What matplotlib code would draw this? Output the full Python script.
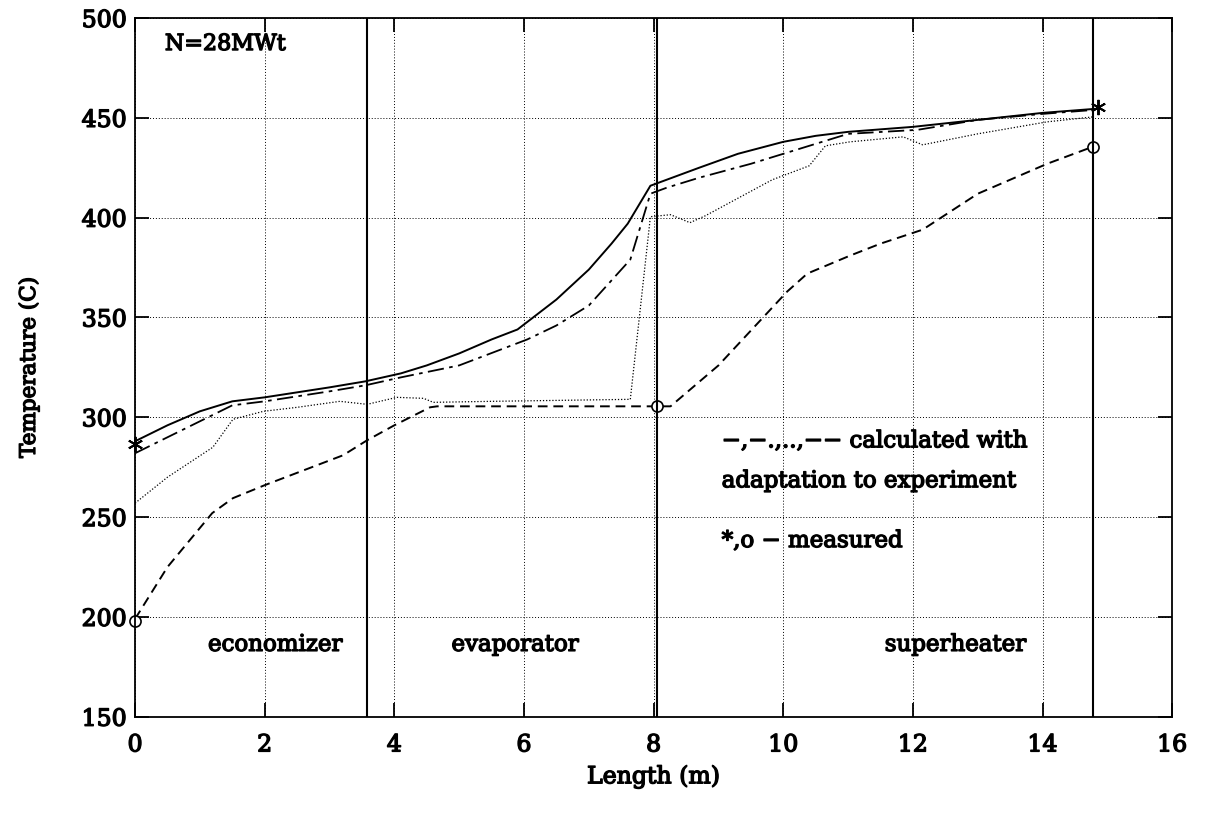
import matplotlib
matplotlib.use("Agg")
import matplotlib.pyplot as plt
import matplotlib.patheffects as pe

# Solid line
x_solid = [0.0, 0.5, 1.0, 1.5, 2.0, 3.0, 3.55, 4.1, 4.5, 5.0, 5.5, 5.9, 6.5, 7.0, 7.35, 7.6, 7.95, 8.2, 8.7, 9.3, 10.0, 10.5, 11.0, 12.0, 13.0, 14.0, 14.8]
y_solid = [288, 296, 303, 308, 310, 315, 318, 322, 326, 332, 339, 344, 359, 374, 387, 397, 416, 419, 425, 432, 438, 441, 443, 445.5, 449, 452.5, 454.5]

# Dash-dot line
x_dashdot = [0.0, 0.5, 1.0, 1.5, 2.0, 3.0, 3.55, 4.1, 5.0, 6.05, 6.5, 7.0, 7.64, 7.95, 8.2, 8.7, 9.5, 10.0, 10.5, 11.0, 12.07, 13.0, 14.0, 14.8]
y_dashdot = [282, 290, 298, 306, 308, 313, 316, 320, 326, 339, 346, 356, 379, 412, 415, 420, 427, 432, 437, 442, 444, 449, 452, 454]

# Dotted line
x_dotted = [0.0, 0.5, 1.2, 1.51, 1.98, 2.5, 3.16, 3.58, 4.04, 4.45, 4.6, 5.5, 7.64, 7.95, 8.26, 8.56, 8.8, 9.83, 10.4, 10.65, 11.03, 11.85, 12.15, 13.0, 14.07, 14.78]
y_dotted = [257, 270, 285, 299, 303, 305, 308, 306.5, 310, 309.5, 307.5, 308, 309, 400.5, 401.5, 397.5, 401, 419, 426, 436, 438, 440.5, 436.5, 442, 448, 450.5]

# Dashed line
x_dashed = [0.0, 0.5, 1.19, 1.51, 2.0, 3.21, 3.58, 4.0, 4.55, 4.66, 8.06, 8.26, 9.0, 10.06, 10.37, 11.03, 11.5, 12.15, 13.0, 14.07, 14.78]
y_dashed = [199, 225, 252, 259.5, 266, 281, 288.5, 296, 305, 305.5, 305.5, 305.5, 326, 363, 372, 381, 387, 394, 412, 427, 435.6]

# Measured points
x_star = [0.0, 14.86]
y_star = [286.5, 455.5]
x_circle = [0.0, 8.05, 14.78]
y_circle = [198, 305.5, 435.6]

# Section boundaries
x_sections = [3.58, 8.05, 14.78]

x_ticks = [0, 2, 4, 6, 8, 10, 12, 14, 16]
y_ticks = [150, 200, 250, 300, 350, 400, 450, 500]

plt.rcParams['font.family'] = ['DejaVu Serif']
plt.rcParams['xtick.direction'] = 'in'
plt.rcParams['ytick.direction'] = 'in'
plt.rcParams['xtick.top'] = True
plt.rcParams['ytick.right'] = True
plt.rcParams['xtick.major.size'] = 10
plt.rcParams['ytick.major.size'] = 10
plt.rcParams['xtick.major.width'] = 1.3
plt.rcParams['ytick.major.width'] = 1.3
FS = 16.5
heavy = [pe.withStroke(linewidth=1.0, foreground='black')]

fig = plt.figure(figsize=(12.06, 8.21), dpi=100)
ax = fig.add_axes([0.112, 0.127, 0.860, 0.851])

ax.plot(x_solid, y_solid, color='black', lw=1.4, ls='-')
ax.plot(x_dashdot, y_dashdot, color='black', lw=1.3, ls=(0, (9, 3, 2, 3)))
ax.plot(x_dotted, y_dotted, color='black', lw=0.9, ls=(0, (1, 1.5)))
ax.plot(x_dashed, y_dashed, color='black', lw=1.4, ls=(0, (5, 3)))

ax.plot(x_star, y_star, ls='none', marker=(6, 2, 0), ms=11, mec='black', mew=1.4, clip_on=False)
ax.plot(x_circle, y_circle, ls='none', marker='o', ms=8, mfc='white', mec='black', mew=1.2, clip_on=False)

for xs in x_sections:
    ax.axvline(xs, color='black', lw=1.5)

ax.set_xlim(0, 16)
ax.set_ylim(150, 500)
ax.set_xticks(x_ticks)
ax.set_yticks(y_ticks)
ax.grid(True, color='black', ls=(0, (1, 2)), lw=0.7)
ax.tick_params(labelsize=17)
ax.tick_params(axis='x', pad=12)
ax.tick_params(axis='y', pad=6)
for lab in ax.get_xticklabels() + ax.get_yticklabels():
    lab.set_path_effects(heavy)
for s in ax.spines.values():
    s.set_linewidth(1.3)

ax.set_xlabel('Length (m)', fontsize=17, labelpad=6, path_effects=heavy)
ax.set_ylabel('Temperature (C)', fontsize=15.5, labelpad=30, path_effects=heavy)

ax.text(0.46, 487, 'N=28MWt', fontsize=16, va='center', path_effects=heavy)
ax.text(2.16, 186, 'economizer', fontsize=FS, ha='center', va='center', path_effects=heavy)
ax.text(5.86, 186, 'evaporator', fontsize=FS, ha='center', va='center', path_effects=heavy)
ax.text(12.65, 186, 'superheater', fontsize=FS, ha='center', va='center', path_effects=heavy)
ax.text(9.05, 288, '\u2212,\u2212.,..,\u2212\u2212 calculated with', fontsize=FS, va='center', path_effects=heavy)
ax.text(9.05, 268, 'adaptation to experiment', fontsize=FS, va='center', path_effects=heavy)
ax.text(9.05, 238, '*,o \u2212 measured', fontsize=FS, va='center', path_effects=heavy)

fig.savefig('out.png', dpi=100)
